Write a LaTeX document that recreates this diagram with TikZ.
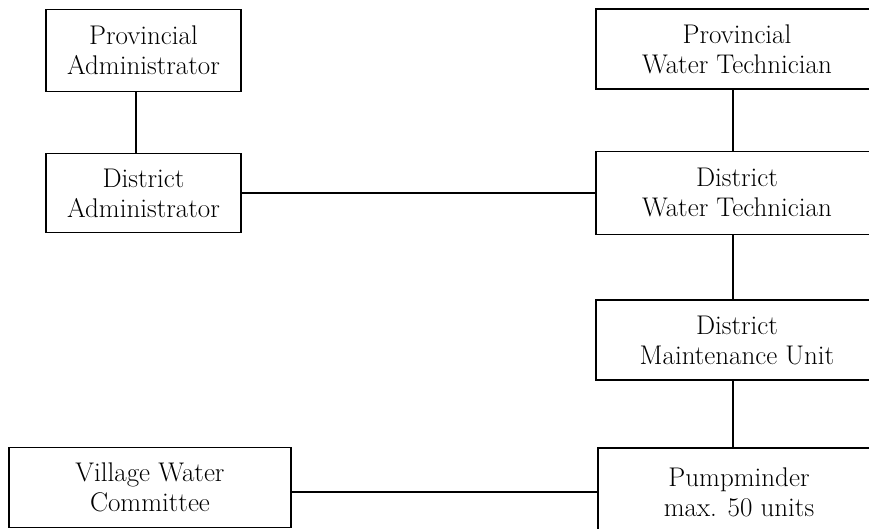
\documentclass[tikz,border=0pt]{standalone}
\usepackage{tikz}

\begin{document}
\begin{tikzpicture}
      [x=1pt, y=1pt,
        unit/.style={draw, line width=1.4pt, align=center, inner sep=0pt,
          minimum width=282pt, minimum height=82pt,
          font=\fontsize{27}{30}\selectfont},
        link/.style={line width=1.4pt}]
      \clip (0,0) rectangle (869,529);
      \node[unit, minimum width=195pt] (padmin) at (143.5,478.5) {Provincial\\Administrator};
      \node[unit, minimum width=195pt, minimum height=79pt] (dadmin) at (143.5,336) {District\\Administrator};
      \node[unit, minimum height=80pt] (ptech) at (737,480) {Provincial\\Water Technician};
      \node[unit, minimum height=83pt] (dtech) at (737,336) {District\\Water Technician};
      \node[unit, minimum height=80pt] (dmu) at (737,189) {District\\Maintenance Unit};
      \node[unit, minimum height=88pt] (pump) at (739,37) {Pumpminder\\max. 50 units};
      \node[unit, minimum height=80pt] (village) at (150,41.5) {Village Water\\Committee};
      \draw[link] (padmin.south -| 136,0) -- (dadmin.north -| 136,0);
      \draw[link] (dadmin) -- (dtech);
      \draw[link] (ptech.south -| 733,0) -- (dtech.north -| 733,0);
      \draw[link] (dtech.south -| 733,0) -- (dmu.north -| 733,0);
      \draw[link] (dmu.south -| 733,0) -- (pump.north -| 733,0);
      \draw[link] (village.east |- pump) -- (pump);
    \end{tikzpicture}
\end{document}
